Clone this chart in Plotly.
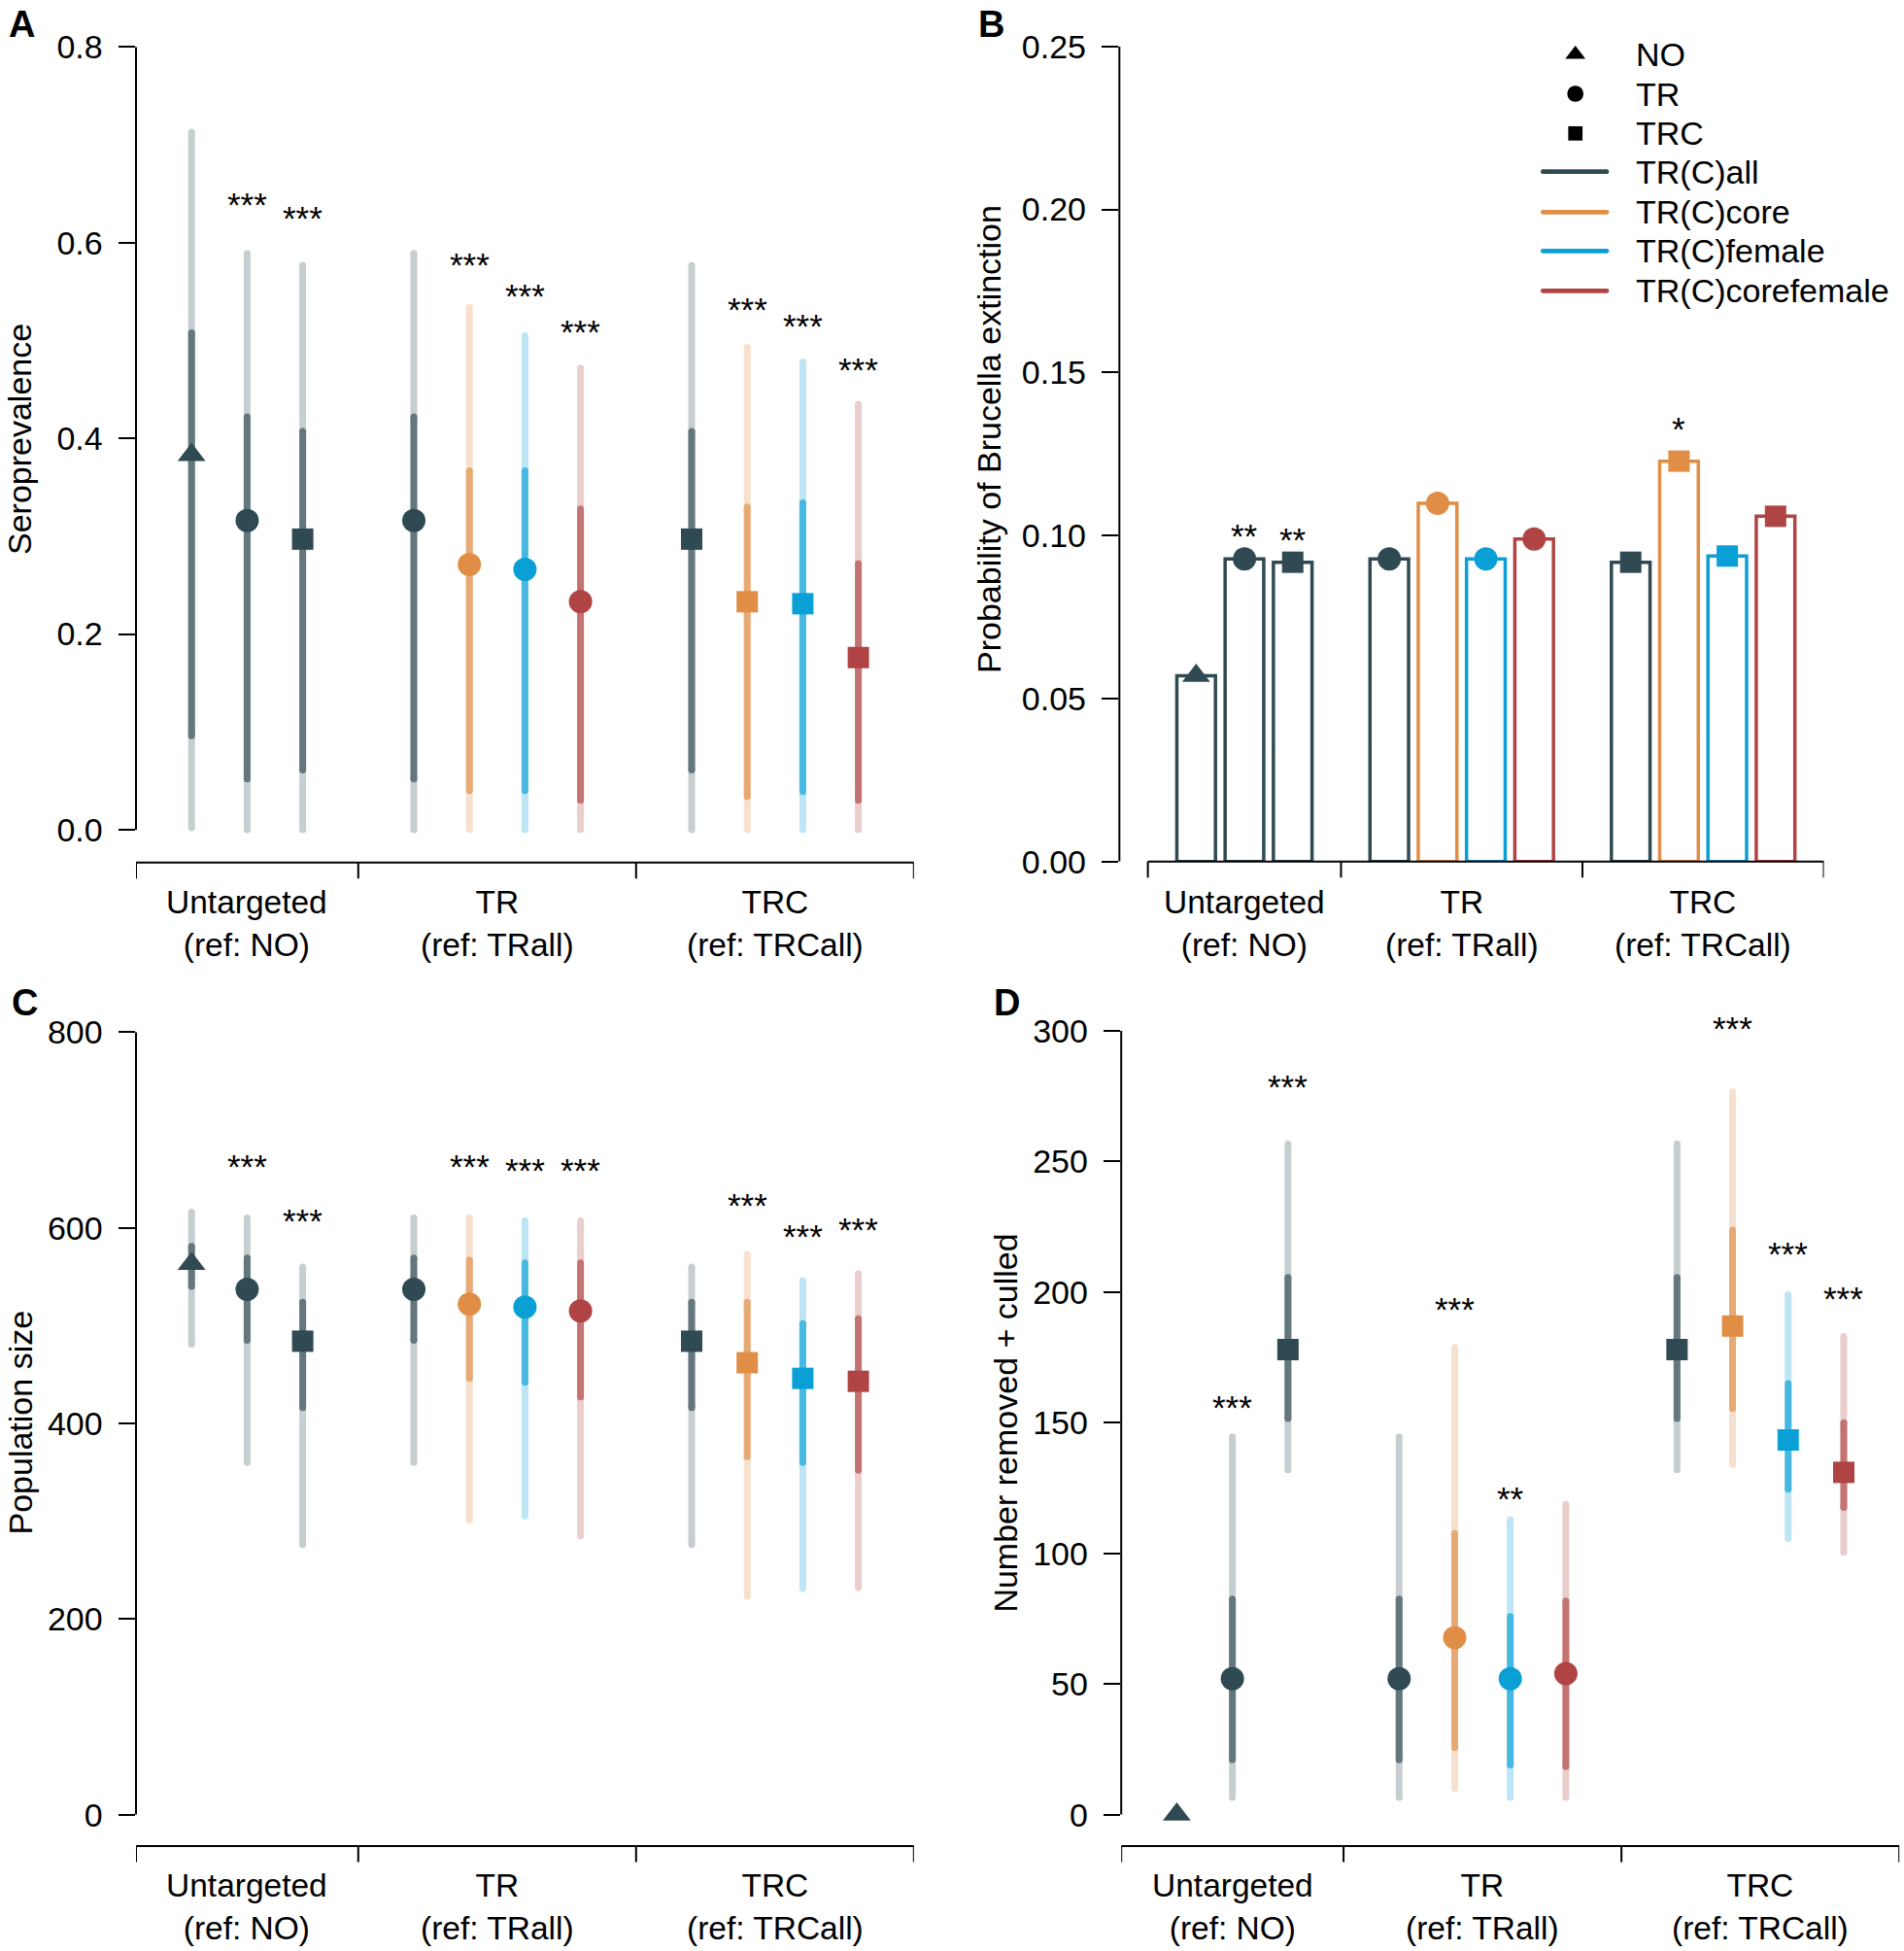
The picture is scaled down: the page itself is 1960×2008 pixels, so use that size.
import plotly.graph_objects as go

W, H = 1960, 2008
FONT = "Liberation Sans, Arial, Helvetica, sans-serif"

# ---------------- data ----------------
slots = [0, 1, 2, 4, 5, 6, 7, 9, 10, 11, 12]
symbols = ["triangle-up", "circle", "square", "circle", "circle", "circle", "circle",
           "square", "square", "square", "square"]
groups = ["all", "all", "all", "all", "core", "female", "corefemale",
          "all", "core", "female", "corefemale"]
group_labels = ["Untargeted<br>(ref: NO)", "TR<br>(ref: TRall)", "TRC<br>(ref: TRCall)"]
group_label_pos = [1, 5.5, 10.5]
group_sep = [-1, 3, 8, 13]

# A: seroprevalence
sero_med = [0.383, 0.316, 0.297, 0.316, 0.271, 0.266, 0.233, 0.297, 0.233, 0.231, 0.176]
sero_lo95 = [0.002, 0.0, 0.0, 0.0, 0.0, 0.0, 0.0, 0.0, 0.0, 0.0, 0.0]
sero_hi95 = [0.713, 0.589, 0.577, 0.589, 0.534, 0.505, 0.472, 0.577, 0.493, 0.478, 0.435]
sero_lo50 = [0.096, 0.052, 0.061, 0.052, 0.040, 0.040, 0.030, 0.061, 0.034, 0.039, 0.030]
sero_hi50 = [0.508, 0.422, 0.407, 0.422, 0.367, 0.367, 0.328, 0.407, 0.330, 0.334, 0.272]
sero_stars = ["", "***", "***", "", "***", "***", "***", "", "***", "***", "***"]
sero_star_y = [None, 0.645, 0.631, None, 0.583, 0.552, 0.515, None, 0.538, 0.521, 0.476]

# B: probability of Brucella extinction
ext_prob = [0.0570, 0.0928, 0.0918, 0.0928, 0.1099, 0.0928, 0.0989, 0.0918, 0.1228, 0.0937, 0.1059]
ext_stars = ["", "**", "**", "", "", "", "", "", "*", "", ""]
ext_star_y = [None, 0.1017, 0.1004, None, None, None, None, None, 0.1344, None, None]

# C: population size
pop_med = [563, 537, 484, 537, 522, 519, 515, 484, 462, 446, 443]
pop_lo95 = [481, 360, 276, 360, 301, 305, 285, 276, 223, 231, 232]
pop_hi95 = [616, 610, 560, 610, 610, 607, 607, 560, 573, 546, 553]
pop_lo50 = [540, 485, 416, 485, 446, 442, 427, 416, 366, 360, 352]
pop_hi50 = [581, 569, 524, 569, 567, 564, 564, 524, 524, 502, 507]
pop_stars = ["", "***", "***", "", "***", "***", "***", "", "***", "***", "***"]
pop_star_y = [None, 669, 613, None, 669, 665, 665, None, 629, 597, 604]

# D: number removed + culled
rem_med = [0, 52, 178, 52, 67.7, 52, 54, 178, 187, 143.4, 131]
rem_lo95 = [None, 6.5, 132, 6.5, 10, 6.5, 6.5, 132, 134, 105.7, 100.4]
rem_hi95 = [None, 144.6, 256.8, 144.6, 178.8, 112.8, 118.8, 256.8, 276.8, 199, 183]
rem_lo50 = [None, 21, 151.6, 21, 25.6, 19, 18.4, 151.6, 155.4, 124.5, 117.6]
rem_hi50 = [None, 82.5, 205.6, 82.5, 107.6, 75.8, 81.8, 205.6, 223.8, 165, 150]
rem_stars = ["", "***", "***", "", "***", "**", "", "", "***", "***", "***"]
rem_star_y = [None, 158, 281, None, 195.5, 123, None, None, 303, 217, 199.6]

legend_symbols = [("triangle-up", "NO"), ("circle", "TR"), ("square", "TRC")]
legend_lines = [("all", "TR(C)all"), ("core", "TR(C)core"),
                ("female", "TR(C)female"), ("corefemale", "TR(C)corefemale")]

# ---------------- styling ----------------
base = {"all": "#2F4A52", "core": "#E08E45", "female": "#0AA0D6", "corefemale": "#B04444"}


def blend(hexc, a):
    r, g, b = int(hexc[1:3], 16), int(hexc[3:5], 16), int(hexc[5:7], 16)
    f = lambda c: int(round(a * c + (1 - a) * 255))
    return "rgb(%d,%d,%d)" % (f(r), f(g), f(b))


mid = {k: blend(v, 0.75) for k, v in base.items()}
light = {k: blend(v, 0.27) for k, v in base.items()}


def py(px):
    return 1 - px / H


fig = go.Figure()
shapes = []
annotations = []

panels = {
    "A": dict(xa="x", ya="y", x0=140, x1=940.8, top=48.3, zero=854.0, bottom=887.7, vtop=0.8, xmin=-1.0,
              ticks=[0, 0.2, 0.4, 0.6, 0.8], fmt="%.1f", title="Seroprevalence", title_x=20, title_y=452,
              label_y=918.5, lab=("A", 7, 10)),
    "B": dict(xa="x2", ya="y2", x0=1152.3, x1=1877.5, top=47.8, zero=886.7, bottom=886.7, vtop=0.25, xmin=-1.59,
              ticks=[0, 0.05, 0.10, 0.15, 0.20, 0.25], fmt="%.2f", title="Probability of Brucella extinction",
              title_x=1018, title_y=452, label_y=918.5, lab=("B", 1005, 10)),
    "C": dict(xa="x3", ya="y3", x0=140, x1=940.8, top=1062.3, zero=1867.6, bottom=1900, vtop=800, xmin=-1.0,
              ticks=[0, 200, 400, 600, 800], fmt="%d", title="Population size", title_x=20.5, title_y=1464,
              label_y=1930.7, lab=("C", 10, 1017)),
    "D": dict(xa="x4", ya="y4", x0=1154.2, x1=1955.2, top=1061, zero=1867.6, bottom=1900, vtop=300, xmin=-1.0,
              ticks=[0, 50, 100, 150, 200, 250, 300], fmt="%d", title="Number removed + culled",
              title_x=1034.6, title_y=1465, label_y=1930.7, lab=("D", 1021, 1017)),
}

layout_axes = {}
for key, p in panels.items():
    vmin = -(p["bottom"] - p["zero"]) * p["vtop"] / (p["zero"] - p["top"])
    xname = "xaxis" + p["xa"][1:]
    yname = "yaxis" + p["ya"][1:]
    layout_axes[xname] = dict(domain=[p["x0"] / W, p["x1"] / W], range=[p["xmin"], 13],
                              anchor=p["ya"], showgrid=False, zeroline=False, showline=False,
                              showticklabels=False, ticks="", fixedrange=True, automargin=False)
    layout_axes[yname] = dict(domain=[py(p["bottom"]), py(p["top"])], range=[vmin, p["vtop"]],
                              anchor=p["xa"], showgrid=False, zeroline=False, showline=False,
                              tickmode="array", tickvals=p["ticks"],
                              ticktext=[p["fmt"] % t for t in p["ticks"]],
                              ticks="outside", ticklen=17.5, tickwidth=2, tickcolor="black",
                              ticklabelstandoff=9, automargin=False,
                              tickfont=dict(family=FONT, size=34, color="black"), fixedrange=True)
    shapes.append(dict(type="line", xref=p["xa"] + " domain", yref=p["ya"], x0=0, x1=0,
                       y0=0, y1=p["vtop"], line=dict(color="black", width=2)))
    shapes.append(dict(type="line", xref=p["xa"], yref="paper", x0=-1, x1=13,
                       y0=py(p["bottom"]), y1=py(p["bottom"]), line=dict(color="black", width=2)))
    for s in group_sep:
        shapes.append(dict(type="line", xref=p["xa"], yref="paper", x0=s, x1=s,
                           y0=py(p["bottom"]), y1=py(p["bottom"] + 16.5), line=dict(color="black", width=2)))
    for gx, gl in zip(group_label_pos, group_labels):
        annotations.append(dict(x=gx, xref=p["xa"], y=py(p["label_y"] - 11), yref="paper", text=gl,
                                showarrow=False, xanchor="center", yanchor="top",
                                font=dict(family=FONT, size=33.5, color="black")))
    annotations.append(dict(x=p["title_x"] / W, xref="paper", y=py(p["title_y"]), yref="paper",
                            text=p["title"], textangle=-90, showarrow=False, xanchor="center",
                            yanchor="middle", font=dict(family=FONT, size=34, color="black")))
    lab, lx, ly = p["lab"]
    annotations.append(dict(x=lx / W, xref="paper", y=py(ly - 8), yref="paper", text="<b>%s</b>" % lab,
                            showarrow=False, xanchor="left", yanchor="top",
                            font=dict(family=FONT, size=38, color="black")))


def star_note(p, s, v, txt):
    # place in paper coordinates so labels above the axis top are still shown
    px = p["zero"] - v * (p["zero"] - p["top"]) / p["vtop"]
    annotations.append(dict(x=s, xref=p["xa"], y=py(px), yref="paper", text=txt,
                            showarrow=False, xanchor="center", yanchor="middle", yshift=-6,
                            font=dict(family=FONT, size=35, color="black")))


def interval_panel(p, med, lo95, hi95, lo50, hi50, stars, star_y):
    for i, s in enumerate(slots):
        g = groups[i]
        if lo95[i] is not None:
            fig.add_trace(go.Scatter(x=[s, s], y=[lo95[i], hi95[i]], mode="lines+markers",
                                     line=dict(color=light[g], width=7),
                                     marker=dict(size=7, color=light[g], line=dict(width=0)),
                                     xaxis=p["xa"], yaxis=p["ya"],
                                     cliponaxis=False, showlegend=False, hoverinfo="skip"))
            fig.add_trace(go.Scatter(x=[s, s], y=[lo50[i], hi50[i]], mode="lines+markers",
                                     line=dict(color=mid[g], width=7),
                                     marker=dict(size=7, color=mid[g], line=dict(width=0)),
                                     xaxis=p["xa"], yaxis=p["ya"],
                                     cliponaxis=False, showlegend=False, hoverinfo="skip"))
        size = {"circle": 24, "square": 22, "triangle-up": 25}[symbols[i]]
        fig.add_trace(go.Scatter(x=[s], y=[med[i]], mode="markers",
                                 marker=dict(symbol=symbols[i], size=size, color=base[g], line=dict(width=0)),
                                 xaxis=p["xa"], yaxis=p["ya"], cliponaxis=False, showlegend=False))
        if stars[i]:
            star_note(p, s, star_y[i], stars[i])


interval_panel(panels["A"], sero_med, sero_lo95, sero_hi95, sero_lo50, sero_hi50, sero_stars, sero_star_y)
interval_panel(panels["C"], pop_med, pop_lo95, pop_hi95, pop_lo50, pop_hi50, pop_stars, pop_star_y)
interval_panel(panels["D"], rem_med, rem_lo95, rem_hi95, rem_lo50, rem_hi50, rem_stars, rem_star_y)

pB = panels["B"]
fig.add_trace(go.Bar(x=slots, y=ext_prob, width=0.8, xaxis=pB["xa"], yaxis=pB["ya"],
                     marker=dict(color="white", line=dict(color=[base[g] for g in groups], width=3.5)),
                     showlegend=False, cliponaxis=False))
for i, s in enumerate(slots):
    size = {"circle": 24, "square": 22, "triangle-up": 25}[symbols[i]]
    fig.add_trace(go.Scatter(x=[s], y=[ext_prob[i]], mode="markers",
                             marker=dict(symbol=symbols[i], size=size, color=base[groups[i]], line=dict(width=0)),
                             xaxis=pB["xa"], yaxis=pB["ya"], cliponaxis=False, showlegend=False))
    if ext_stars[i]:
        star_note(pB, s, ext_star_y[i], ext_stars[i])

# legend (custom, pixel overlay axes)
layout_axes["xaxis5"] = dict(domain=[0, 1], range=[0, W], anchor="y5", visible=False, fixedrange=True,
                             automargin=False)
layout_axes["yaxis5"] = dict(domain=[0, 1], range=[H, 0], anchor="x5", visible=False, fixedrange=True,
                             automargin=False)
leg_x_sym, leg_x_line0, leg_x_line1, leg_x_text = 1621.7, 1588.3, 1654, 1681.7
leg_y = [56, 96.5, 137.3, 176.7, 218.3, 258.3, 299.3]
leg_sizes = {"triangle-up": 18, "circle": 16.7, "square": 14.7}
for j, (sym, txt) in enumerate(legend_symbols):
    fig.add_trace(go.Scatter(x=[leg_x_sym], y=[leg_y[j]], mode="markers", xaxis="x5", yaxis="y5",
                             marker=dict(symbol=sym, size=leg_sizes[sym], color="black", line=dict(width=0)),
                             showlegend=False, hoverinfo="skip", cliponaxis=False))
    annotations.append(dict(x=leg_x_text, xref="x5", y=leg_y[j], yref="y5", text=txt, showarrow=False,
                            xanchor="left", yanchor="middle", font=dict(family=FONT, size=34, color="black")))
for k, (g, txt) in enumerate(legend_lines):
    yy = leg_y[3 + k]
    fig.add_trace(go.Scatter(x=[leg_x_line0, leg_x_line1], y=[yy, yy], mode="lines+markers",
                             xaxis="x5", yaxis="y5",
                             line=dict(color=base[g], width=4.7),
                             marker=dict(size=4.7, color=base[g], line=dict(width=0)),
                             showlegend=False, hoverinfo="skip", cliponaxis=False))
    annotations.append(dict(x=leg_x_text, xref="x5", y=yy, yref="y5", text=txt, showarrow=False,
                            xanchor="left", yanchor="middle", font=dict(family=FONT, size=34, color="black")))

fig.update_layout(width=W, height=H, margin=dict(l=0, r=0, t=0, b=0, pad=0), autosize=False,
                  paper_bgcolor="white", plot_bgcolor="rgba(0,0,0,0)", showlegend=False,
                  shapes=shapes, annotations=annotations, font=dict(family=FONT, color="black"),
                  **layout_axes)

fig.write_html("out.html", config={"displayModeBar": False, "staticPlot": True},
               post_script="document.body.style.margin='0';document.body.style.padding='0';")
